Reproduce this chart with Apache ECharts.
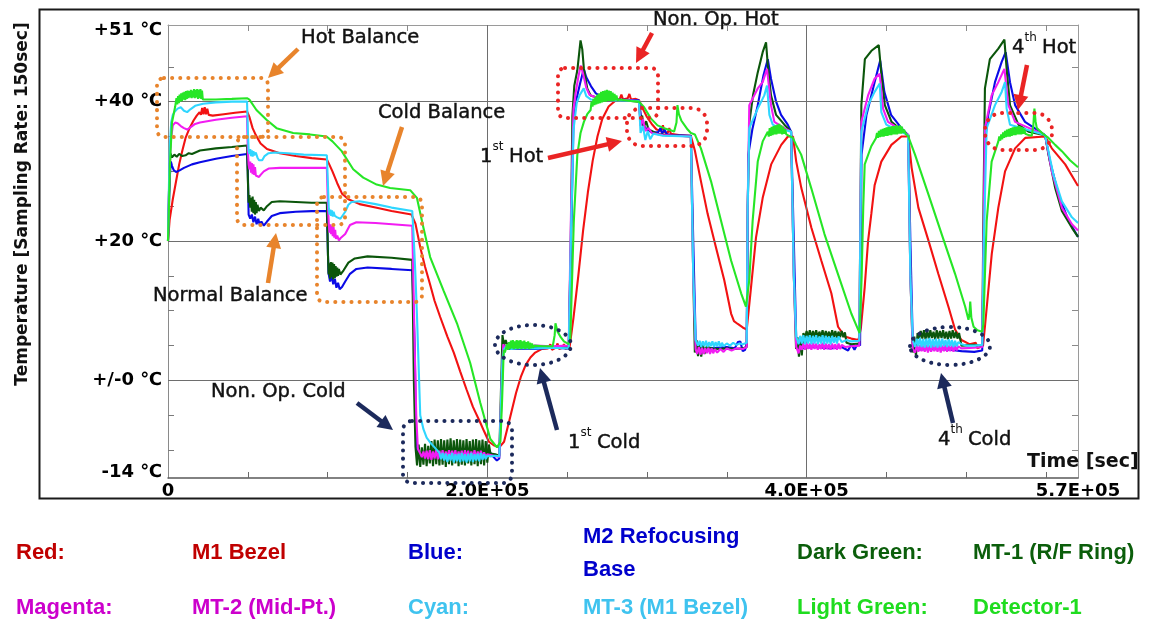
<!DOCTYPE html>
<html><head><meta charset="utf-8">
<script src="https://cdn.jsdelivr.net/npm/echarts@6/dist/echarts.min.js"></script>
<style>html,body{margin:0;padding:0;background:#fff}#c{width:1149px;height:623px}</style>
</head><body><div id="c"></div>
<script>
// time in units of 1000 s, temperature in deg C
const xTickValues=[0,200,400,570];
const xTickLabels=['0','2.0E+05','4.0E+05','5.7E+05'];
const xMinorTicks=[50,100,150,200,250,300,350,400,450,500,550];
const yTickValues=[-14,0,20,40,51];
const yTickLabels=['-14 ℃','+/-0 ℃','+20 ℃','+40 ℃','+51 ℃'];
const yMinorTicks=[-10,-5,0,5,10,15,20,25,30,35,40,45];
const gridX=[200,400];
const gridY=[0,20,40];

const seriesNames=['Red','Blue','Dark Green','Magenta','Cyan','Light Green'];

const red=[[0,20],[1,23],[3,26],[5,28.5],[7,31],[9,33],[11,34.8],[13.5,36.2],[16,37.3],[18,38],[19.8,38.5],[20.6,38.1],[21.4,39.1],[22.2,38.2],[23,39.2],[23.8,38.2],[24.6,39],[25.5,38.1],[28,38],[35,38.2],[42,38.4],[49.5,38.6],
[51,37.8],[53,36.2],[55,35.2],[58,34],[62,33.2],[70,32.6],[80,32.2],[90,31.9],[99.5,31.7],
[101,31],[103,30],[106,28.3],[109,26.8],[113,26],[120,25.3],[130,24.8],[140,24.3],[152.5,23.8],
[155,22.5],[158,19.1],[161,16.3],[164,13.9],[167,11.4],[170.5,9.1],[175,6.3],[179,4],[183,1.3],[187,-1.3],[191,-3.8],[195.5,-6],[198,-7.3],[201,-8.8],[204,-9.3],[207.5,-9.6],
[210.5,-8.8],[214.5,-5.1],[218,-1.8],[221,0.5],[224,2.2],[227,3.3],[230,4],[234,4.5],[238,4.6],[239.5,5.2],[240.5,4.4],[243,4.7],[244,5.3],[245,4.5],[247,4.7],[248,5.2],[249,4.5],[251.5,4.7],
[254,9],[257,15],[260,21.5],[263,27],[266,31.5],[269,35],[272,37.5],[276,39.3],[280,40.1],[283,40.4],[284,41],[285,40.3],[288,40.5],[289,41.1],[290,40.3],[293,40.4],[295,40.2],
[297,39.2],[300,37.8],[303,36.8],[306,36],[309,35.8],[310,36.6],[311,35.6],[313,35.5],[314,36.2],[315,35.4],[320,35.2],[327.5,35.1],
[330,33],[333.8,28.6],[338,23.9],[343.2,19.1],[348.4,14.4],[352.7,9.6],[354.5,8.5],[356.9,8.1],[360,7.6],[362.5,7.3],
[365.2,13.4],[368.3,20.5],[372.5,26.2],[377.8,31],[384.1,33.8],[388.3,35],[391.5,35],
[393.5,31.4],[396.7,27.6],[403,21.9],[409.2,17.2],[415.5,12.5],[419.7,7.7],[423.9,6.3],[428,6],[432.5,5.8],
[434,7.5],[436.4,13.4],[438.5,20],[440.6,24],[442.6,28],[446.8,31.4],[453.1,33.8],[459.4,35],[463.7,35],
[465.8,30.5],[470,24.8],[476.3,20.1],[482.5,15.3],[488.8,10.6],[493,7.3],[497,5.8],[502,5.2],[506,5.4],[507,4.6],[510.5,5],
[511.7,7.7],[516,18.2],[520.1,24.8],[524.3,30],[530.6,33.3],[536.9,34.8],[549.4,35],[553.6,33.3],[562,31],[570,27.9]];

const blue=[[0,20],[0.6,25],[1.2,29.5],[1.8,31.4],[2.5,30.8],[3.5,30.2],[5,29.9],[7,30.1],[10,30.5],[15,31],[20,31.3],[30,31.8],[40,32.2],[49.5,32.5],
[50,30],[50.5,23.8],[51.5,23.2],[52.5,23.8],[53.5,22.7],[54.5,23.5],[55.5,22.4],[56.5,23.2],[57.5,22.3],[58.5,22.8],[60,22.2],[62,22.8],[65,23.6],[70,24],[80,24.2],[90,24.3],[99.5,24.3],
[100.5,15.5],[101.5,14.2],[102.5,15],[103.5,13.8],[104.5,14.6],[105.5,13.3],[106.5,14],[107.5,13.1],[109,13.4],[111,14.2],[114,15.3],[118,16],[125,16.2],[140,16],[153,15.8],
[154.5,5],[155.5,-9.5],[157,-11],[165,-11.2],[175,-11],[185,-11.2],[195,-11],[200,-10.8],[202,-10.4],[204,-11],[206,-11.5],[207.5,-11.2],
[209,-2],[210,4],[211,5],[213,4.5],[220,4.6],[230,4.5],[240,4.7],[251,4.6],
[252.5,20],[254,37],[256,40.5],[258,42.5],[260.4,44.7],[262,43.5],[265,42.2],[268,41.2],[272,40.6],[280,40.3],[295,40.2],
[296.5,37.5],[298,36.5],[300,36],[303,35.6],[307,35.6],[308.5,36.2],[309.5,35.4],[311,36],[312.5,35.3],[316,35.2],[327.5,35.1],
[329,20],[330.5,6],[332,4.5],[340,4.6],[350,4.8],[355,4.6],[357,5.5],[358.5,5.6],[360,4.2],[361.5,4.4],[362.5,5.4],
[363.5,32.4],[366,36],[369.4,39.5],[373,43.8],[375.7,46.1],[377.7,43.3],[380.9,40],[384,38.1],[388.2,36.7],[390.3,35.7],
[392,20],[393.5,6],[395,4.6],[405,4.8],[415,4.6],[422,4.8],[426,4.3],[428,5.2],[430,4.4],[432,5.3],[433.5,5],
[434.4,32.4],[437.5,38.1],[442.6,42.8],[446.1,45.9],[448.7,41.4],[452.9,38.1],[459.4,36.2],[463.7,35.2],
[465,20],[466.5,5.5],[468,4.4],[480,4.5],[490,4.4],[497,4.2],[505,4.1],[510,4.3],
[511,20],[511.7,34.3],[513.8,38.1],[518,42.8],[522.2,45.7],[524.7,47.1],[527.4,42.8],[530.6,39.5],[536.8,37.1],[549.4,35.2],[552.5,31.4],[557.8,26.7],[564.1,22.9],[570,20.6]];

const darkGreen=[[0,20],[0.5,26],[1,30],[1.5,32.6],[2.5,32],[4,32.4],[5.5,32.1],[7,32.5],[9,32.2],[11,32.3],[13,32.6],[15,32.5],[20,33],[30,33.3],[40,33.5],[49.5,33.7],
[50,29],[50.5,25.5],[51,26.6],[51.5,24.8],[52,26.2],[52.5,24.2],[53,26.4],[53.5,24],[54,25.9],[54.5,23.8],[55,25.6],[55.5,24],[56,25.2],[57,24.3],[58,24.8],[60,24.4],[62,25],[65,25.6],[70,25.7],[80,25.6],[90,25.5],[99.5,25.5],
[100.2,18],[100.6,15.2],[101,16.8],[101.5,14.6],[102,17],[102.5,14.8],[103,16.9],[103.5,14.5],[104,16.7],[104.5,14.7],[105,16.4],[105.5,14.9],[106,16.2],[106.5,15],[107,16],[108,15.2],[110,15.8],[113,16.9],[117,17.5],[125,17.8],[140,17.6],[153,17.3],
[154,0],[155,-9.5],[156,-12.2],[157,-9.2],[158,-12.4],[159,-9.6],[160,-12.1],[161,-9.1],[162,-12.3],[163,-9.4],[164,-11.9],[165,-8.7],[166,-12.3],[167,-8.5],[168,-12],[169,-8.6],[170,-12.2],[171,-8.4],[172,-12.1],[173,-8.6],[174,-12.4],[175,-8.5],[176,-12],[177,-8.3],[178,-12.2],[179,-8.6],[180,-11.9],[181,-8.4],[182,-12.3],[183,-8.5],[184,-12.1],[185,-8.6],[186,-12.2],[187,-8.4],[188,-11.9],[189,-8.7],[190,-12.2],[191,-8.5],[192,-12],[193,-8.4],[194,-12.3],[195,-8.6],[196,-12],[197,-8.5],[198,-12.2],[199,-8.7],[200,-11.8],[201,-9.2],[202,-10.5],[205,-10.6],[207.5,-10.8],
[208.5,-2],[209.5,6.5],[210.5,5],[211.5,5.8],[213,4.7],[220,4.8],[230,4.7],[240,4.8],[251,4.8],
[252.3,20],[253.3,38],[254.5,42.3],[256.4,44.5],[258.4,48.8],[259.5,47.5],[260.5,44.7],[262.6,41.9],[264.7,40.9],[270,40.5],[280,40.3],[295,40],
[296,37],[297,38],[298,36.3],[299.5,37.2],[301,36],[303,35.8],[306,35.4],[312,35.2],[320,35.1],[327.5,35],
[329,15],[330,4],[331,5.8],[332,3.5],[333,5.5],[334,3.4],[335,5.2],[336,3.8],[337.5,4.9],[340,4.6],[345,4.5],[350,4.6],[355,4.5],[360,4.6],[362.5,4.8],
[363.1,25],[364.2,37.1],[366.5,41],[369.4,44.2],[372.5,47.1],[374.6,48.5],[375.7,45.2],[377.7,40.9],[380.9,38.1],[386.1,36.7],[390.3,35.7],
[392,15],[393.4,4.5],[394.3,6.2],[395.2,3.4],[396.1,6.3],[397,3.6],[398,6.8],[399,6.1],[400,7.1],[401,6.2],[402,7.2],[403,6.1],[404,7.1],[405,6.2],[406,7.2],[407,6.1],[408,7],[409,6.2],[410,7.2],[411,6.1],[412,7.1],[413,6.2],[414,7],[415,6.1],[416,7.2],[417,6.2],[418,7.1],[419,6.1],[420,7],[421,6.2],[422,7.1],[423,6.2],[424,6.9],[425,5.4],[428,5.2],[433,5.3],
[434.3,39.5],[436.5,46.1],[440.6,47.3],[445.2,48.1],[446.9,43.8],[449,39.5],[453.2,37.1],[459.5,35.9],[463.7,35.2],
[465,15],[466.5,4],[467.5,6.3],[468.5,3.5],[469.5,6.8],[470.5,6],[471.5,7.1],[472.5,6],[473.5,7.2],[474.5,5.9],[475.5,7.1],[476.5,6],[477.5,7.2],[478.5,6.1],[479.5,7],[480.5,5.9],[481.5,7.2],[482.5,6],[483.5,7.1],[484.5,6.1],[485.5,7.2],[486.5,6],[487.5,7],[488.5,5.9],[489.5,7.1],[490.5,6],[491.5,7.2],[492.5,6.1],[493.5,7],[494.5,6],[495.5,6.8],[497,5],[505,5.1],[510,5],
[510.8,25],[511.7,41.9],[514.8,46.1],[520.1,47.6],[523.9,48.9],[525.3,44.7],[527.4,39.5],[532.7,36.7],[539,35.7],[549.4,35.2],[551.5,32.4],[555.7,27.6],[559.9,24.3],[566.2,21.9],[570,20.6]];

const magenta=[[0,20],[0.6,27],[1.2,32],[1.8,34.5],[3,36.6],[4.5,37],[6,36.9],[8,36.5],[10,36.2],[12,36],[14,36.3],[17,36.8],[20,37],[30,37.4],[40,37.7],[49.5,37.9],
[50,33],[50.5,31],[51,30.3],[51.5,31.4],[52,29.8],[52.5,31.2],[53,29.6],[53.5,31],[54,29.5],[54.5,30.6],[55,29.4],[56,29.6],[57,29.2],[58,29.5],[60,30],[63,30.4],[70,30.5],[80,30.5],[90,30.5],[99.5,30.5],
[100.2,25],[100.7,22.5],[101.2,21.2],[101.7,22.4],[102.2,21],[102.7,22.2],[103.2,20.7],[103.7,22],[104.2,20.5],[104.7,21.6],[105.2,20.3],[106,20.8],[107,20.1],[108,20.4],[109,20.2],[111,21],[114,22.3],[118,22.7],[130,22.6],[153,22.2],
[154.5,5],[155.5,-5],[156.5,-9.8],[158,-10.5],[159,-11],[160,-10.2],[161,-11.2],[162,-10.1],[163,-11.3],[164,-10],[165,-11.4],[166,-10.2],[167,-11.2],[168,-10],[169,-11.3],[170,-10.1],[171,-11.2],[172,-10],[173,-11.4],[174,-10.2],[175,-11.2],[176,-10],[177,-11.3],[178,-10.1],[179,-11.2],[180,-10],[181,-11.4],[182,-10.2],[183,-11.2],[184,-10.1],[185,-11.3],[186,-10],[187,-11.2],[188,-10.1],[189,-11.3],[190,-10.2],[191,-11.2],[192,-10],[193,-11.3],[194,-10.2],[195,-11.1],[196,-10.1],[197,-11.2],[198,-10.3],[199,-11],[200,-10.6],[204,-10.8],[207.5,-11],
[209,0],[210,5.2],[211,4.6],[212,5],[220,4.9],[230,5],[240,4.9],[251,5],
[252.5,25],[254,39],[255.5,41.5],[257,43.5],[258.5,45.2],[260,44],[262,42],[264,41],[268,40.6],[280,40.3],[295,40.1],
[296,36.5],[297.5,37.5],[299,35.8],[301,36.2],[303,35.5],[310,35.2],[327.5,35],
[329,15],[330.5,4.5],[331.5,3.8],[332.5,4.8],[333.5,3.7],[334.5,4.7],[335.5,3.8],[336.5,4.6],[337.5,3.9],[338.5,4.7],[339.5,3.8],[340.5,4.6],[341.5,3.9],[342.5,4.5],[344,4],[346,4.5],[348,4.1],[350,4.6],[353,4.3],[356,4.6],[360,4.5],[362.5,4.8],
[363.1,25],[364.1,39.5],[369.4,41.9],[372.5,42.8],[375.2,44.7],[377.7,39.5],[379.8,37.1],[386.1,36.2],[390.3,35.7],
[392,15],[393.5,4.8],[395,3.9],[396,5],[397,4.4],[398,5.3],[399,4.4],[400,5.4],[401,4.5],[402,5.3],[403,4.4],[404,5.4],[405,4.5],[406,5.3],[407,4.4],[408,5.2],[409,4.5],[410,5.4],[411,4.4],[412,5.3],[413,4.5],[414,5.2],[415,4.4],[416,5.3],[417,4.5],[418,5.2],[419,4.4],[420,5.3],[421,4.5],[422,5.1],[424,4.8],[428,4.9],[433,5],
[434.3,37.1],[438.5,40.9],[442.6,43.3],[445.8,44],[447.9,39],[451,37.1],[459.4,35.9],[463.6,35.2],
[465,15],[466.5,4.5],[468,4],[469,5],[470,4.1],[471,5.1],[472,4.2],[473,5],[474,4.1],[475,5.1],[476,4],[477,5],[478,4.1],[479,5.1],[480,4.2],[481,5],[482,4.1],[483,5.1],[484,4],[485,5],[486,4.2],[487,5.1],[488,4.1],[489,5],[490,4.2],[491,5],[492,4.1],[493,5],[494,4.3],[495,4.9],[497,4.6],[505,4.7],[510,4.8],
[510.8,20],[511.7,36.2],[515.9,40.9],[520.1,42.8],[523.9,44.7],[526.4,39.5],[530.6,37.1],[549.4,35.2],[553.6,30],[559.9,24.8],[566.2,22.4],[570,21.5]];

const cyan=[[0,20],[0.6,28],[1.2,34],[2,37],[3,38.1],[4,38.5],[6,39],[8,39.2],[10,38.7],[12,38.5],[14,38.9],[17,39.4],[22,39.7],[30,39.9],[40,40],[49.5,40],
[50,36],[50.5,33],[51,32.5],[51.5,33.2],[52,32.2],[52.5,33],[53,32.1],[53.5,32.9],[54,32.3],[55,32.7],[56,32],[57,31.6],[58,31.4],[59,31.6],[60.5,32.2],[63,32.6],[67,32.7],[75,32.6],[85,32.4],[99.5,32.3],
[100.2,28],[100.7,24.6],[101.2,23.8],[101.7,24.5],[102.2,23.6],[102.7,24.4],[103.2,23.5],[103.7,24.2],[104.5,23.6],[106,23.4],[108,23.2],[109,23.3],[111,24.2],[113,25.2],[115,25.6],[120,25.7],[130,25.3],[140,24.8],[153,24.3],
[154,20],[155,15],[156,9],[157,2],[158,-5],[160,-7],[162,-8.2],[164.2,-8.9],[167,-9.6],[170,-10.4],[171,-11.3],[172,-10.4],[173,-11.5],[174,-10.5],[175,-11.7],[176,-10.6],[177,-11.5],[178,-10.4],[179,-11.8],[180,-10.6],[181,-11.6],[182,-10.5],[183,-11.7],[184,-10.4],[185,-11.6],[186,-10.6],[187,-11.8],[188,-10.5],[189,-11.6],[190,-10.4],[191,-11.7],[192,-10.6],[193,-11.5],[194,-10.5],[195,-11.6],[196,-10.4],[197,-11.4],[198,-10.6],[199,-11.3],[200,-10.8],[202,-10.9],[205,-10.8],[207.5,-10.9],
[208.5,-4],[209.5,3],[210.5,4.5],[212,4.9],[215,4.5],[220,4.7],[230,4.6],[240,4.7],[251,4.6],
[252.5,22],[254,36],[256,39.8],[258,41],[260.4,41.9],[262,40.8],[265,40.3],[295,40.1],
[296,35.5],[297.5,36.5],[299,34.5],[300.5,35.8],[302,34.6],[304,35.4],[310,35.1],[327.5,35],
[329,15],[330.5,5.8],[332,5],[333,5.7],[334,4.8],[335,5.6],[336,4.9],[337,5.7],[338,4.8],[339,5.5],[340,4.9],[341,5.6],[342,4.8],[343,5.5],[344,4.9],[345,5.6],[346,4.8],[347,5.4],[348,4.9],[350,5.3],[352,5],[354,5.4],[356,5.1],[358,5.3],[360,5.2],[362.5,5.4],
[363.1,25],[364.1,36.2],[369.4,39],[373.5,40.9],[375.2,42.3],[376.7,38.1],[378.8,36.7],[385,36],[390.3,35.7],
[392,15],[393.5,6.3],[395,5.2],[396,6.4],[397,5.3],[398,6.5],[399,5.2],[400,6.4],[401,5.3],[402,6.5],[403,5.2],[404,6.4],[405,5.3],[406,6.5],[407,5.2],[408,6.3],[409,5.3],[410,6.5],[411,5.2],[412,6.4],[413,5.3],[414,6.3],[415,5.2],[416,6.4],[417,5.4],[418,6.2],[419,5.3],[420,6.3],[422,5.5],[425,5.8],[428,5.6],[433,5.7],
[434.3,35.7],[438.5,39.5],[442.6,41.4],[445.8,42.6],[446.8,38.5],[449.9,36.7],[456,36],[463.6,35.2],
[465,15],[466.5,5.8],[468,4.8],[469,6],[470,4.9],[471,6.1],[472,4.8],[473,5.9],[474,4.7],[475,6],[476,4.8],[477,6.1],[478,4.7],[479,5.9],[480,4.8],[481,6],[482,4.7],[483,5.9],[484,4.8],[485,6],[486,4.9],[487,5.8],[488,4.8],[489,5.9],[490,4.9],[491,5.8],[492,4.8],[493,5.7],[494,4.9],[495,5.5],[497,5.2],[500,5],[505,5],[510,5.1],
[511,20],[512.8,36.2],[518,39.5],[522.2,41.4],[524.3,42.8],[525.3,39],[527.4,36.7],[549.4,35.2],[554.6,29.5],[559.9,25.7],[566.2,23.4],[570,22.6]];

const lightGreen=[[0,20],[0.6,24.8],[1.2,31],[2.5,37],[4.5,39.3],
[5.3,40.5],[5.8,39.6],[6.3,40.8],[6.8,39.8],[7.3,41],[7.8,40],[8.3,41.2],[8.8,40.1],[9.3,41.3],[9.8,40.3],[10.3,41.4],[10.8,40.2],[11.3,41.5],[11.8,40.4],[12.3,41.6],[12.8,40.5],[13.3,41.5],[13.8,40.6],[14.3,41.7],[14.8,40.5],[15.3,41.6],[15.8,40.6],[16.3,41.8],[16.8,40.5],[17.3,41.7],[17.8,40.6],[18.3,41.8],[18.8,40.4],[19.3,41.7],[19.8,40.5],[20.3,41.8],[20.8,40.4],[21.3,41.6],[21.8,40.3],
[22.5,40.3],[30,40.3],[40,40.4],[49.5,40.5],
[51,40.3],[55.4,38.8],[61.7,37.4],[68,36.2],[78.4,35.5],[88.9,35.3],[99.3,35],
[103,34.3],[108.8,32.9],[116,30.3],[122.3,29.1],[130.7,28.1],[139.1,27.6],[151.7,27.3],
[155.9,26.2],[160,21.9],[164.2,17.7],[172.6,12.9],[181,8.2],[189.3,2.5],[195.6,-3.2],[201.9,-8.4],[206.1,-9.6],[208.2,-8.8],[209.3,-2.7],[210.3,4.4],[211,4],
[211.5,4.2],[212.4,5.2],[213,4.4],[213.6,5.5],[214.2,4.5],[214.8,5.7],[215.4,4.6],[216,5.8],[216.6,4.5],[217.2,5.6],[217.8,4.6],[218.4,5.8],[219,4.5],[219.6,5.7],[220.2,4.6],[220.8,5.8],[221.4,4.5],[222,5.6],[222.6,4.6],[223.2,5.7],[223.8,4.5],[224.4,5.5],[225,4.6],[225.6,5.6],[226.2,4.5],[226.8,5.4],[227.4,4.6],[228,5.3],[228.6,4.7],[229.5,5],[235,4.9],[241,4.9],[242.2,6.5],[242.7,8.2],[244,7],[246,6.2],[248,5.6],[251,5.2],
[252,6],[254.2,22.9],[256.4,32.4],[258.4,35.5],[260.5,37.1],[262.6,38.2],[264.7,38.8],
[265.3,40],[265.9,39.3],[266.5,40.4],[267.1,39.5],[267.7,40.7],[268.3,39.6],[268.9,41],[269.5,39.7],[270.1,41.2],[270.7,39.8],[271.3,41.4],[271.9,39.9],[272.5,41.5],[273.1,40],[273.7,41.6],[274.3,40],[274.9,41.7],[275.5,40.1],[276.1,41.6],[276.7,40.1],[277.3,41.5],[277.9,40.1],[278.5,41.3],[279.1,40.1],[279.7,41.1],[280.3,40.2],[280.9,40.9],[281.5,40.2],
[283,40.3],[290,40.1],[295,40],[298.2,39.2],[302.4,37.6],[306.6,36.6],[310.7,36.2],[314.9,35.9],[317,35.7],[318.5,37],[319.1,39.5],[320,38.2],[321.5,37.3],[323.3,36.7],[325.5,36],[327.5,35.5],[330,35.3],
[333.8,33.3],[340.1,28.6],[346.4,22.9],[352.7,17.2],[359,12.5],[362,10.6],
[364.1,14.4],[366.2,22.9],[369.4,31.4],[372.5,34.3],[375.7,35.7],
[376.3,35],[376.9,36.2],[377.5,35.1],[378.1,36.4],[378.7,35.2],[379.3,36.5],[379.9,35.3],[380.5,36.6],[381.1,35.3],[381.7,36.7],[382.3,35.4],[382.9,36.8],[383.5,35.4],[384.1,36.6],[384.7,35.3],[385.3,36.4],[385.9,35.4],[386.5,36.1],[387.3,35.3],[389,35.1],[391.4,34.8],
[393.4,33.8],[396.6,32.4],[402.9,27.6],[411.2,21],[419.6,15.3],[428,9.6],[433.2,6.8],
[434.5,15],[435.5,25],[436.4,31],[440.5,33.6],[443.5,34.8],
[444.1,35.5],[444.7,34.8],[445.3,35.8],[445.9,34.9],[446.5,36],[447.1,35],[447.7,36.1],[448.3,35],[448.9,36.2],[449.5,35.1],[450.1,36.3],[450.7,35.1],[451.3,36.4],[451.9,35.2],[452.5,36.4],[453.1,35.2],[453.7,36.5],[454.3,35.3],[454.9,36.5],[455.5,35.3],[456.1,36.6],[456.7,35.3],[457.3,36.5],[457.9,35.4],[458.5,36.6],[459.1,35.4],[459.7,36.4],[460.3,35.5],[461,36],[462,35.4],[463.7,35],
[467.9,32.4],[476.3,26.7],[484.6,21],[493,15.3],[499.3,10.6],[501.4,8.7],[502,9.5],[502.5,11.3],[503.2,9],[504.6,7.7],[507,7.2],[509.9,7],
[510.7,8],[512.8,22.9],[515.9,31.4],[520.1,34.3],
[520.7,35],[521.3,34.4],[521.9,35.3],[522.5,34.6],[523.1,35.6],[523.7,34.8],[524.3,35.8],[524.9,34.9],[525.5,36],[526.1,35],[526.7,36.1],[527.3,35],[527.9,36.2],[528.5,35.1],[529.1,36.3],[529.7,35.2],[530.3,36.4],[530.9,35.2],[531.5,36.4],[532.1,35.3],[532.7,36.5],[533.3,35.3],[533.9,36.4],[534.5,35.3],[535.1,36.3],[535.7,35.4],[536.3,36.1],[537,35.4],[538,35.6],[539,35.2],[541,35.1],[542,36.5],[542.7,39],[543.4,37.2],[544.2,36.2],[548,35.4],[551.5,34.8],[555.7,33.8],[559.9,32.9],[565,31.6],[570,30.6]];

const seriesData=[red,blue,darkGreen,magenta,cyan,lightGreen];
const lineColors=['#f21212','#0a0ae6','#0b560b','#f21cf2','#2fd6ff','#26e626'];

const legendRows=[
  [['Red:','#c00000'],['M1 Bezel','#c00000'],['Blue:','#0000cc'],['M2 Refocusing\nBase','#0000cc'],['Dark Green:','#0b5e0b'],['MT-1 (R/F Ring)','#0b5e0b']],
  [['Magenta:','#cc00cc'],['MT-2 (Mid-Pt.)','#cc00cc'],['Cyan:','#3fc3ef'],['MT-3 (M1 Bezel)','#3fc3ef'],['Light Green:','#1fdc1f'],['Detector-1','#1fdc1f']]
];

const chart=echarts.init(document.getElementById('c'),null,{renderer:'canvas'});

function xLab(v){const i=xTickValues.indexOf(v);return i>=0?xTickLabels[i]:'';}
function yLab(v){const i=yTickValues.indexOf(v);if(i<0)return '';
  if(v===51)return '{t|'+yTickLabels[i]+'}';
  if(v===-14)return '{b|'+yTickLabels[i]+'}';
  return yTickLabels[i];}

const series=seriesData.map((d,i)=>({
  name:seriesNames[i],type:'line',data:d,showSymbol:false,symbol:'none',
  lineStyle:{color:lineColors[i],width:2.1},itemStyle:{color:lineColors[i]},
  silent:true,animation:false,z:3+i
}));
series.unshift({type:'line',data:[[0,-14]],showSymbol:false,lineStyle:{opacity:0},silent:true,z:1,
  markLine:{silent:true,symbol:'none',animation:false,label:{show:false},
    lineStyle:{color:'#6e6e6e',width:1,type:'solid'},
    data:gridX.map(v=>({xAxis:v})).concat(gridY.map(v=>({yAxis:v})))}});

function arrow(x1,y1,x2,y2,color){
  const dx=x2-x1,dy=y2-y1,L=Math.hypot(dx,dy),ux=dx/L,uy=dy/L,hl=15,hw=7.5;
  const bx=x2-ux*hl,by=y2-uy*hl;
  return [{type:'line',z:120,shape:{x1:x1,y1:y1,x2:bx+ux*2,y2:by+uy*2},style:{stroke:color,lineWidth:4.5}},
    {type:'polygon',z:120,shape:{points:[[x2,y2],[bx-uy*hw,by+ux*hw],[bx+uy*hw,by-ux*hw]]},style:{fill:color}}];
}
const ORANGE='#e8842c',NAVY='#1c2a5c',RED='#ea2424';
function dotRect(x,y,w,h,r,color){return {type:'rect',z:110,shape:{x:x,y:y,width:w,height:h,r:r},
  style:{fill:'none',stroke:color,lineWidth:4,lineDash:[0.1,8],lineCap:'round'}};}
function dotEll(cx,cy,rx,ry,color){return {type:'ellipse',z:110,shape:{cx:cx,cy:cy,rx:rx,ry:ry},
  style:{fill:'none',stroke:color,lineWidth:4,lineDash:[0.1,8],lineCap:'round'}};}
const annFont='19.5px "DejaVu Sans"';
function txt(x,y,s,font,color,align,sw){return {type:'text',z:130,x:x,y:y,
  style:{text:s,font:font||annFont,fill:color||'#111',stroke:color||'#111',lineWidth:(sw===undefined?0.45:sw),
    textAlign:align||'left',textVerticalAlign:'middle'}};}
function supTxt(x,y,a,sup,b){
  return [txt(x,y,a),{type:'text',z:130,x:x+12.5,y:y-4,style:{text:sup,font:'12px "DejaVu Sans"',fill:'#111',textAlign:'left',textVerticalAlign:'bottom'}},
    txt(x+12.5+(sup==='th'?12.5:11.5)+5,y,b)];
}

let graphics=[];
graphics.push({type:'rect',z:100,shape:{x:39.5,y:9.5,width:1099,height:489},style:{fill:'none',stroke:'#1a1a1a',lineWidth:2}});
graphics.push(dotRect(157,78,111,59,7,ORANGE));
graphics.push(dotRect(237,137,108,88,7,ORANGE));
graphics.push(dotRect(317,197,105,105,7,ORANGE));
graphics.push(dotRect(403,421,109,62,9,NAVY));
graphics.push(dotEll(533,345,38,20,NAVY));
graphics.push(dotEll(950,346,40,19,NAVY));
graphics.push(dotRect(558,68,100,50,7,RED));
graphics.push(dotRect(627,108,80,38,15,RED));
graphics.push(dotRect(985,113,67,37,17,RED));
graphics=graphics.concat(arrow(298,49,268,78,ORANGE),arrow(402,127,383,186,ORANGE),arrow(268,283,276,233,ORANGE),
  arrow(357,403,393,430,NAVY),arrow(557,430,540,368,NAVY),arrow(953,423,941,373,NAVY),
  arrow(652,33,636,63,RED),arrow(548,158,622,141,RED),arrow(1027,65,1018,110,RED));
graphics.push(txt(301,38,'Hot Balance'),txt(378,113,'Cold Balance'),txt(153,296,'Normal Balance'),
  txt(211,392,'Non. Op. Cold'),txt(653,20,'Non. Op. Hot'));
graphics=graphics.concat(supTxt(568,443,'1','st','Cold'),supTxt(938,440,'4','th','Cold'),
  supTxt(480,157,'1','st','Hot'),supTxt(1012,48,'4','th','Hot'));
graphics.push(txt(1027,462,'Time [sec]','bold 19px "DejaVu Sans"','#111','left',0));
graphics.push({type:'text',z:130,x:23,y:204,rotation:Math.PI/2,
  style:{text:'Temperature [Sampling Rate: 150sec]',font:'bold 17px "DejaVu Sans"',fill:'#111',textAlign:'center',textVerticalAlign:'middle'}});
const colX=[16,192,408,583,797,973];
const rowY=[553,608];
legendRows.forEach((row,ri)=>row.forEach((cell,ci)=>{
  graphics.push({type:'text',z:130,x:colX[ci],y:rowY[ri],
    style:{text:cell[0],font:'bold 22px "Liberation Sans", Arial, sans-serif',fill:cell[1],textAlign:'left',textVerticalAlign:'middle',lineHeight:33}});
}));

chart.setOption({
  animation:false,
  backgroundColor:'#fff',
  grid:{left:168,right:71,top:25,bottom:145,show:false},
  xAxis:[{type:'value',min:0,max:570,position:'bottom',
      axisLine:{show:true,onZero:false,lineStyle:{color:'#5a5a5a',width:1.5}},
      axisTick:{show:true,inside:true,length:6,customValues:xMinorTicks,lineStyle:{color:'#6a6a6a'}},
      axisLabel:{show:true,customValues:xTickValues,formatter:xLab,margin:4,color:'#000',
        fontFamily:'DejaVu Sans',fontWeight:'bold',fontSize:18},
      splitLine:{show:false}},
    {type:'value',min:0,max:570,position:'top',
      axisLine:{show:true,onZero:false,lineStyle:{color:'#9a9a9a',width:1}},
      axisTick:{show:true,inside:true,length:6,customValues:xMinorTicks,lineStyle:{color:'#8a8a8a'}},
      axisLabel:{show:false},splitLine:{show:false}}],
  yAxis:[{type:'value',min:-14,max:51,position:'left',
      axisLine:{show:true,onZero:false,lineStyle:{color:'#8a8a8a',width:1}},
      axisTick:{show:true,inside:true,length:6,customValues:yMinorTicks,lineStyle:{color:'#7a7a7a'}},
      axisLabel:{show:true,customValues:yTickValues,formatter:yLab,margin:6,color:'#000',
        fontFamily:'DejaVu Sans',fontWeight:'bold',fontSize:18,
        rich:{t:{fontFamily:'DejaVu Sans',fontWeight:'bold',fontSize:18,color:'#000',padding:[10,0,0,0]},
              b:{fontFamily:'DejaVu Sans',fontWeight:'bold',fontSize:18,color:'#000',padding:[0,0,12,0]}}},
      splitLine:{show:false}},
    {type:'value',min:-14,max:51,position:'right',
      axisLine:{show:true,onZero:false,lineStyle:{color:'#9a9a9a',width:1}},
      axisTick:{show:true,inside:true,length:6,customValues:yMinorTicks,lineStyle:{color:'#8a8a8a'}},
      axisLabel:{show:false},splitLine:{show:false}}],
  series:series,
  graphic:graphics
});
</script></body></html>
